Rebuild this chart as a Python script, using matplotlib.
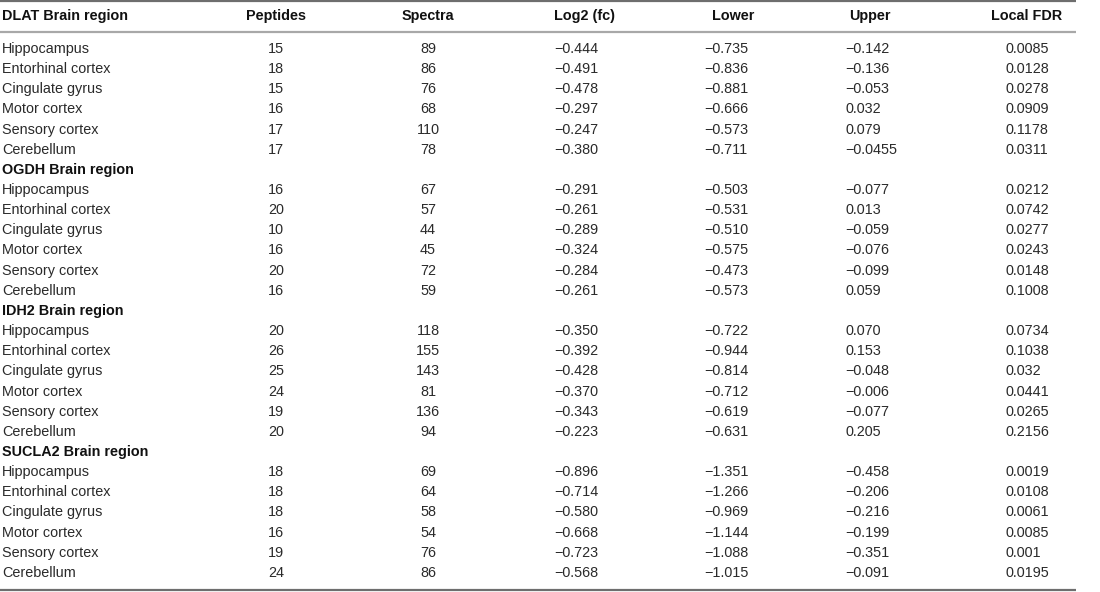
# === Libraries ===
import matplotlib
matplotlib.use("Agg")
import matplotlib.pyplot as plt

# === Table data ===
enzymes = ["DLAT", "OGDH", "IDH2", "SUCLA2"]
regions = ["Hippocampus", "Entorhinal cortex", "Cingulate gyrus",
           "Motor cortex", "Sensory cortex", "Cerebellum"]
col_headers = ["Peptides", "Spectra", "Log2 (fc)", "Lower", "Upper", "Local FDR"]

peptides = [
    [15, 18, 15, 16, 17, 17],
    [16, 20, 10, 16, 20, 16],
    [20, 26, 25, 24, 19, 20],
    [18, 18, 18, 16, 19, 24],
]
spectra = [
    [89, 86, 76, 68, 110, 78],
    [67, 57, 44, 45, 72, 59],
    [118, 155, 143, 81, 136, 94],
    [69, 64, 58, 54, 76, 86],
]
log2fc = [
    ["-0.444", "-0.491", "-0.478", "-0.297", "-0.247", "-0.380"],
    ["-0.291", "-0.261", "-0.289", "-0.324", "-0.284", "-0.261"],
    ["-0.350", "-0.392", "-0.428", "-0.370", "-0.343", "-0.223"],
    ["-0.896", "-0.714", "-0.580", "-0.668", "-0.723", "-0.568"],
]
lower = [
    ["-0.735", "-0.836", "-0.881", "-0.666", "-0.573", "-0.711"],
    ["-0.503", "-0.531", "-0.510", "-0.575", "-0.473", "-0.573"],
    ["-0.722", "-0.944", "-0.814", "-0.712", "-0.619", "-0.631"],
    ["-1.351", "-1.266", "-0.969", "-1.144", "-1.088", "-1.015"],
]
upper = [
    ["-0.142", "-0.136", "-0.053", "0.032", "0.079", "-0.0455"],
    ["-0.077", "0.013", "-0.059", "-0.076", "-0.099", "0.059"],
    ["0.070", "0.153", "-0.048", "-0.006", "-0.077", "0.205"],
    ["-0.458", "-0.206", "-0.216", "-0.199", "-0.351", "-0.091"],
]
local_fdr = [
    ["0.0085", "0.0128", "0.0278", "0.0909", "0.1178", "0.0311"],
    ["0.0212", "0.0742", "0.0277", "0.0243", "0.0148", "0.1008"],
    ["0.0734", "0.1038", "0.032", "0.0441", "0.0265", "0.2156"],
    ["0.0019", "0.0108", "0.0061", "0.0085", "0.001", "0.0195"],
]

# === Layout (pixel coordinates) ===
W, H = 1100, 592
x_region = 2
x_pep = 276      # centered
x_spec = 428     # centered
x_log = 554      # left
x_low = 704      # left
x_up = 845       # left
x_fdr = 1005     # left
hdr_x = [x_pep, x_spec, x_log, 733, 870, 1062]
hdr_ha = ["center", "center", "left", "center", "center", "right"]

y_header = 16
y_first = 49
dy = 20.15
fs = 10.4
txt_col = "#2a2a2a"

plt.rcParams['font.family'] = ['Liberation Sans', 'DejaVu Sans']

fig = plt.figure(figsize=(W / 100, H / 100), dpi=100)
ax = fig.add_axes([0, 0, 1, 1])
ax.set_xlim(0, W)
ax.set_ylim(H, 0)
ax.axis("off")

def fmt(s):
    return s.replace("-", "\u2212")

# header row
ax.text(x_region, y_header, "DLAT Brain region", fontsize=fs, fontweight="bold",
        color="#111111", va="center", ha="left")
for hx, ha, h in zip(hdr_x, hdr_ha, col_headers):
    ax.text(hx, y_header, h, fontsize=fs, fontweight="bold", color="#111111",
            va="center", ha=ha)

# rules
ax.hlines(1, 0, 1076, color="#6e6e6e", lw=1.6)
ax.hlines(32, 0, 1076, color="#a8a8a8", lw=1.6)

row = 0
for g, enz in enumerate(enzymes):
    if g > 0:
        y = y_first + row * dy
        ax.text(x_region, y, enz + " Brain region", fontsize=fs, fontweight="bold",
                color="#111111", va="center", ha="left")
        row += 1
    for i, reg in enumerate(regions):
        y = y_first + row * dy
        ax.text(x_region, y, reg, fontsize=fs, color=txt_col, va="center", ha="left")
        ax.text(x_pep, y, str(peptides[g][i]), fontsize=fs, color=txt_col,
                va="center", ha="center")
        ax.text(x_spec, y, str(spectra[g][i]), fontsize=fs, color=txt_col,
                va="center", ha="center")
        ax.text(x_log, y, fmt(log2fc[g][i]), fontsize=fs, color=txt_col,
                va="center", ha="left")
        ax.text(x_low, y, fmt(lower[g][i]), fontsize=fs, color=txt_col,
                va="center", ha="left")
        ax.text(x_up, y, fmt(upper[g][i]), fontsize=fs, color=txt_col,
                va="center", ha="left")
        ax.text(x_fdr, y, local_fdr[g][i], fontsize=fs, color=txt_col,
                va="center", ha="left")
        row += 1

y_bottom = y_first + (row - 1) * dy + 17
ax.hlines(y_bottom, 0, 1076, color="#6e6e6e", lw=1.6)

fig.savefig("out.png", dpi=100)
